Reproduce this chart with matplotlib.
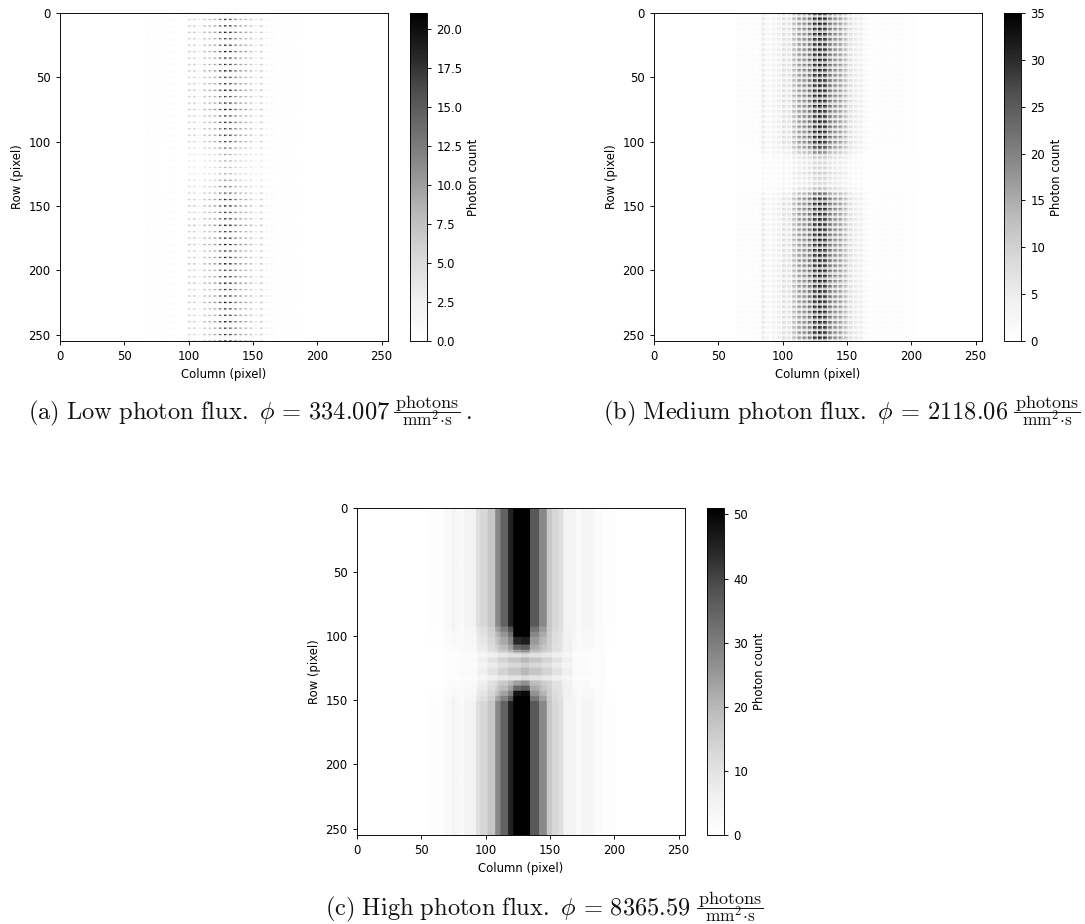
import numpy as np
import matplotlib
matplotlib.use('Agg')
import matplotlib.pyplot as plt
from matplotlib.lines import Line2D

plt.rcParams.update({'font.size': 8.35, 'axes.linewidth': 0.66, 'xtick.major.size': 3.1, 'ytick.major.size': 3.1,
                     'xtick.major.width': 0.66, 'ytick.major.width': 0.66, 'xtick.major.pad': 3.6, 'ytick.major.pad': 3.6,
                     'axes.labelpad': 3.2, 'mathtext.fontset': 'cm'})

N = 256
W, H = 1085, 924

# Panel (c): photon count per column, in and out of the central band, and per-row weights
high_col = ([0]*56 + [0.6]*12 + [2.5]*6 + [5]*3 + [3.5]*3 + [2]*4 + [5]*9 + [11]*3 + [13]*6 + [17]*6
            + [28]*4 + [35]*6 + [45]*4 + [85]*13 + [37]*7 + [28]*6 + [17]*4 + [13]*5 + [11]*4 + [5]*10
            + [2]*4 + [4]*10 + [1.5]*6 + [0.6]*10 + [0]*55)
high_band_col = ([0]*68 + [1]*12 + [2]*14 + [6]*8 + [10]*8 + [14]*8 + [17]*10 + [20]*6 + [17]*10 + [14]*8
                 + [10]*8 + [6]*8 + [2]*14 + [1]*12 + [0]*62)
high_row = ([1.0]*93 + [0.75]*4 + [0.55]*4 + [0.4]*6 + [0.25]*4 + [0.1]*3 + [0]*3 + [0]*4 + [0]*4 + [0]*4
            + [0]*3 + [0]*3 + [0.1]*4 + [0.25]*4 + [0.45]*4 + [0.7]*4 + [1.0]*105)
high_band_row = ([1.0]*111 + [1.0]*2 + [0.6]*4 + [1.0]*4 + [0.75]*4 + [1.0]*4 + [1.0]*2 + [0.6]*4 + [1.0]*4
                 + [1.0]*4 + [1.0]*4 + [1.0]*4 + [1.0]*105)

# Panel (b): level per 4-column block, level per 4-row block, repeat patterns
med_col_level = [0]*16 + [.03, .03, .03, .04, .04, .18, .08, .12, .16, .25, .22, .42, .55, .6, .7, .95, 1, .95, .7, .6,
                          .55, .42, .25, .18, .15, .05, .03, .03, .03, .03, .03, .03, .03, .02, .02] + [0]*13
med_row_level = [.95]*26 + [.85, .6, .35, .28, .3, .35, .3, .28, .4, .7, .9] + [.95]*27
med_col_pattern = [1, .95, .85, .25]
med_row_pattern = [1, .85, .4, .25]
med_peak = 35

# Panel (a): level per 4-column block, level per 5-row block, repeat patterns
low_col_level = [0]*17 + [.03, 0, .03, 0, .05, .05, 0, 0, .35, .35, .15, .42, .45, .55, .8, 1, .95, .7, .55, .5, .42, .2, .38,
                          .12, .07, 0, .03, 0, .03, .02] + [0]*17
low_row_level = [.95, .85, .9, 1, .85, .9, 1, .85, .9, 1, .85, .9, 1, .85, .9, 1, .85, .9, .85, .9, .85, .65, .5, .45, .4, .45,
                 .55, .65, .75, .9, .95, .85, .9, 1, .85, .9, 1, .85, .9, 1, .85, .9, 1, .85, .9, 1, .85, .9, 1, .85, .9, 1]
low_col_pattern = [1, .8, .2, 0]
low_row_pattern = [1, .12, 0, 0, 0]
low_peak = 21

high_vmax, med_vmax, low_vmax = 51, 35, 21
captions = [r'$\mathrm{(a)\ Low\ photon\ flux.}\ \phi\,=\,334.007$',
            r'$\mathrm{(b)\ Medium\ photon\ flux.}\ \phi\,=\,2118.06$',
            r'$\mathrm{(c)\ High\ photon\ flux.}\ \phi\,=\,8365.59$']
frac_num = r'$\mathrm{photons}$'
frac_den = r'$\mathrm{mm}^{2}\!\cdot\!\mathrm{s}$'


def expand(levels, pattern):
    return np.concatenate([[v * p for p in pattern] for v in levels])[:N]


low_img = np.outer(expand(low_row_level, low_row_pattern), expand(low_col_level, low_col_pattern)) * low_peak
med_img = np.outer(expand(med_row_level, med_row_pattern), expand(med_col_level, med_col_pattern)) * med_peak
w = np.array(high_row, dtype=float)
high_img = np.clip(np.outer(w, high_col) + np.outer((1 - w) * np.array(high_band_row), high_band_col), 0, high_vmax)

fig = plt.figure(figsize=(W/100, H/100), dpi=100)


def box(x0, y0, x1, y1):
    return [x0/W, 1 - y1/H, (x1-x0)/W, (y1-y0)/H]


def panel(img, vmax, ax_box, cb_box):
    ax = fig.add_axes(box(*ax_box))
    im = ax.imshow(img, cmap='Greys', vmin=0, vmax=vmax, aspect='auto')
    ax.set_xlim(0, N - 1)
    ax.set_ylim(N - 1, 0)
    ax.set_xticks(range(0, 251, 50))
    ax.set_yticks(range(0, 251, 50))
    ax.set_xlabel('Column (pixel)')
    ax.set_ylabel('Row (pixel)')
    cax = fig.add_axes(box(*cb_box))
    cb = fig.colorbar(im, cax=cax)
    cb.set_label('Photon count')
    return ax


panel(low_img, low_vmax, (60, 13, 388, 341), (410, 13, 427, 341))
panel(med_img, med_vmax, (654, 13, 982, 341), (1004, 13, 1021, 341))
panel(high_img, high_vmax, (357, 508, 685, 835), (707, 508, 724, 835))


def put(x, y, s, size, ha='left'):
    fig.text(x/W, 1 - y/H, s, fontsize=size, ha=ha, va='baseline', color='#111111')


# caption: left x, baseline y, fraction centre x
for txt, x, y, fx in zip(captions, (28, 603, 325), (419, 419, 915), (427, 1047, 730)):
    put(x, y, txt, 17.6)
    line_y = y - 7
    put(fx, line_y - 4, frac_num, 13, 'center')
    put(fx, line_y + 14, frac_den, 12.5, 'center')
    fig.add_artist(Line2D([(fx - 33)/W, (fx + 33)/W], [1 - line_y/H]*2, color='#111111', lw=0.7))
put(465, 419, r'$.$', 17.6)

fig.savefig('out.png', dpi=100)
